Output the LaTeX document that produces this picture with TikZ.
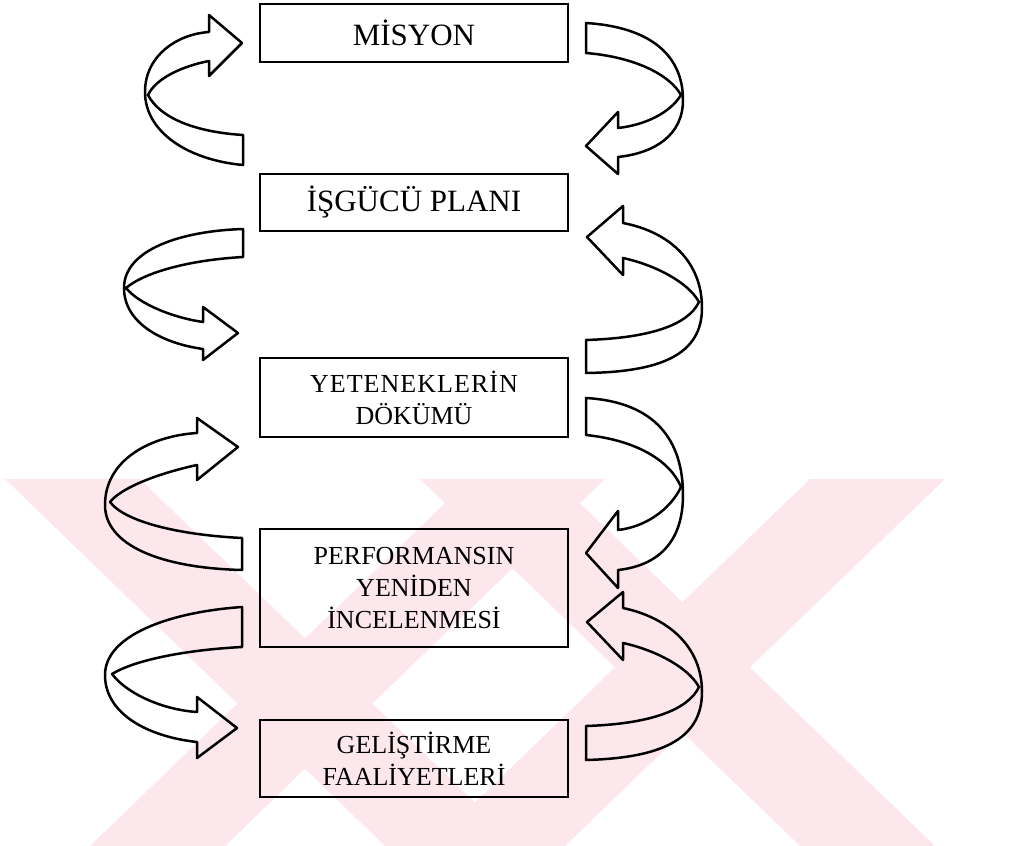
\documentclass[tikz,border=0pt]{standalone}
\usepackage{fontspec}
\setmainfont{Liberation Serif}
\newfontfamily\widefont[LetterSpace=4]{Liberation Serif}
\begin{document}
\begin{tikzpicture}[x=0.5pt,y=-0.5pt,
  stepbox/.style={draw=black,line width=1.1pt,rectangle,minimum width=154pt,
    inner sep=0pt,align=center},
  bigtext/.style={font=\fontsize{15.5}{18}\selectfont},
  smalltext/.style={font=\fontsize{13}{16}\selectfont},
  band/.style={draw=black,line width=1.25pt,line join=round}]
\definecolor{wmpink}{RGB}{252,232,236}
\useasboundingbox (0,0) rectangle (1009,846);

% faint background emblem
\fill[wmpink] (5,479) -- (140,479) -- (520,846) -- (385,846) -- cycle;
\fill[wmpink] (470,479) -- (605,479) -- (225,846) -- (90,846) -- cycle;
\fill[wmpink] (420,479) -- (555,479) -- (935,846) -- (800,846) -- cycle;
\fill[wmpink] (810,479) -- (945,479) -- (565,846) -- (430,846) -- cycle;

% boxes
\node[stepbox,minimum height=29pt,bigtext] (misyon) at (414,33) {MİSYON};
\node[stepbox,minimum height=28.5pt,bigtext] (plan) at (414,202.5) {İŞGÜCÜ PLANI};
\node[stepbox,minimum height=39.5pt,smalltext] (yetenek) at (414,397.5) {{\widefont YETENEKLERİN}\\DÖKÜMÜ};
\node[stepbox,minimum height=59pt,smalltext] (perf) at (414,588) {PERFORMANSIN\\YENİDEN\\İNCELENMESİ};
\node[stepbox,minimum height=38.5pt,smalltext] (gelis) at (414,758.5) {GELİŞTİRME\\FAALİYETLERİ};

% twisted ribbon arrows, left column
\draw[band] (243,165) .. controls (188,160) and (145,132) .. (145,92)
  .. controls (145,55) and (178,34) .. (209,32) -- (209,15) -- (242,43) -- (209,76) -- (209,61)
  .. controls (183,66) and (156,78) .. (148,95)
  .. controls (160,118) and (195,132) .. (243,135) -- cycle;
\draw[band] (243,229) .. controls (180,231) and (124,250) .. (124,288)
  .. controls (124,322) and (160,343) .. (203,349) -- (203,360) -- (238,333) -- (203,307) -- (203,322)
  .. controls (175,318) and (140,305) .. (126,288)
  .. controls (145,272) and (190,260) .. (243,257) -- cycle;
\draw[band] (242,570) .. controls (160,568) and (105,545) .. (105,505)
  .. controls (105,460) and (150,436) .. (197,433) -- (197,418) -- (238,447) -- (197,480) -- (197,465)
  .. controls (160,473) and (122,487) .. (110,502)
  .. controls (125,522) and (180,535) .. (242,538) -- cycle;
\draw[band] (242,607) .. controls (170,612) and (105,635) .. (105,675)
  .. controls (105,715) and (150,737) .. (197,742) -- (197,758) -- (237,728) -- (197,697) -- (197,712)
  .. controls (165,710) and (128,695) .. (112,674)
  .. controls (135,660) and (185,650) .. (242,647) -- cycle;

% twisted ribbon arrows, right column
\draw[band] (586,23) .. controls (650,27) and (683,55) .. (683,100)
  .. controls (683,135) and (655,153) .. (618,157) -- (618,174) -- (586,146) -- (618,112) -- (618,128)
  .. controls (645,125) and (670,113) .. (681,95)
  .. controls (670,75) and (635,57) .. (586,53) -- cycle;
\draw[band] (586,373) .. controls (660,372) and (702,355) .. (702,308)
  .. controls (702,262) and (670,232) .. (623,223) -- (623,206) -- (587,237) -- (623,275) -- (623,258)
  .. controls (655,265) and (688,282) .. (699,302)
  .. controls (688,325) and (650,338) .. (586,340) -- cycle;
\draw[band] (586,398) .. controls (655,402) and (683,440) .. (683,495)
  .. controls (683,545) and (655,566) .. (618,570) -- (618,588) -- (586,553) -- (618,511) -- (618,530)
  .. controls (645,527) and (670,510) .. (681,487)
  .. controls (670,460) and (635,440) .. (586,435) -- cycle;
\draw[band] (586,760) .. controls (660,758) and (702,740) .. (702,692)
  .. controls (702,648) and (670,618) .. (623,608) -- (623,592) -- (587,622) -- (623,660) -- (623,643)
  .. controls (655,650) and (688,667) .. (699,687)
  .. controls (688,710) and (650,724) .. (586,726) -- cycle;
\end{tikzpicture}
\end{document}
